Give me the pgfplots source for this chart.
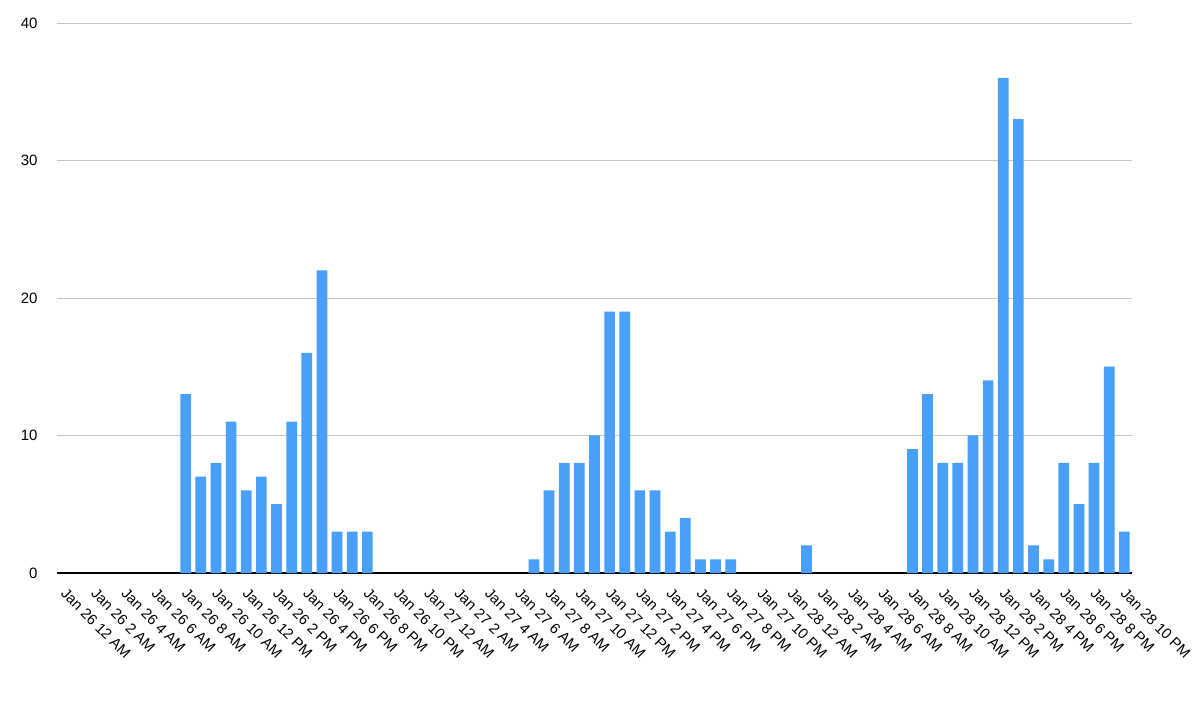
\documentclass[border=0pt]{standalone}
\usepackage{pgfplots}
\pgfplotsset{compat=1.18}
\usepackage{fontspec}
\setmainfont{Liberation Sans}
\definecolor{barblue}{RGB}{72,160,248}
\begin{document}
\begin{tikzpicture}
\useasboundingbox (0,0) rectangle (1200pt,710pt);
\begin{axis}[
  at={(57pt,137pt)}, anchor=south west,
  width=1075pt, height=550pt, scale only axis,
  xmin=-0.5, xmax=70.5, ymin=0, ymax=40,
  ytick={0,10,20,30,40},
  xtick={0,2,...,70},
  xticklabels={Jan 26 12 AM,Jan 26 2 AM,Jan 26 4 AM,Jan 26 6 AM,Jan 26 8 AM,Jan 26 10 AM,Jan 26 12 PM,Jan 26 2 PM,Jan 26 4 PM,Jan 26 6 PM,Jan 26 8 PM,Jan 26 10 PM,
               Jan 27 12 AM,Jan 27 2 AM,Jan 27 4 AM,Jan 27 6 AM,Jan 27 8 AM,Jan 27 10 AM,Jan 27 12 PM,Jan 27 2 PM,Jan 27 4 PM,Jan 27 6 PM,Jan 27 8 PM,Jan 27 10 PM,
               Jan 28 12 AM,Jan 28 2 AM,Jan 28 4 AM,Jan 28 6 AM,Jan 28 8 AM,Jan 28 10 AM,Jan 28 12 PM,Jan 28 2 PM,Jan 28 4 PM,Jan 28 6 PM,Jan 28 8 PM,Jan 28 10 PM},
  axis x line*=bottom, axis y line*=left,
  x axis line style={black, line width=1.4pt},
  y axis line style={draw=none},
  major tick length=0pt,
  ymajorgrids, grid style={draw=black!22, line width=0.8pt},
  /pgf/number format/assume math mode=true,
  yticklabel style={font=\fontsize{15}{17}\selectfont, anchor=east, xshift=-16pt},
  xticklabel style={font=\fontsize{14.8}{16}\selectfont, rotate=-45, anchor=north west, inner sep=0pt, xshift=12pt, yshift=-8pt},
  clip=false,
]
\addplot[ybar, bar width=10.7pt, fill=barblue, draw=none] coordinates {
 (8,13) (9,7) (10,8) (11,11) (12,6) (13,7) (14,5) (15,11) (16,16) (17,22) (18,3) (19,3) (20,3)
 (31,1) (32,6) (33,8) (34,8) (35,10) (36,19) (37,19) (38,6) (39,6) (40,3) (41,4) (42,1) (43,1) (44,1)
 (49,2)
 (56,9) (57,13) (58,8) (59,8) (60,10) (61,14) (62,36) (63,33) (64,2) (65,1) (66,8) (67,5) (68,8) (69,15) (70,3)
};
\end{axis}
\end{tikzpicture}
\end{document}
